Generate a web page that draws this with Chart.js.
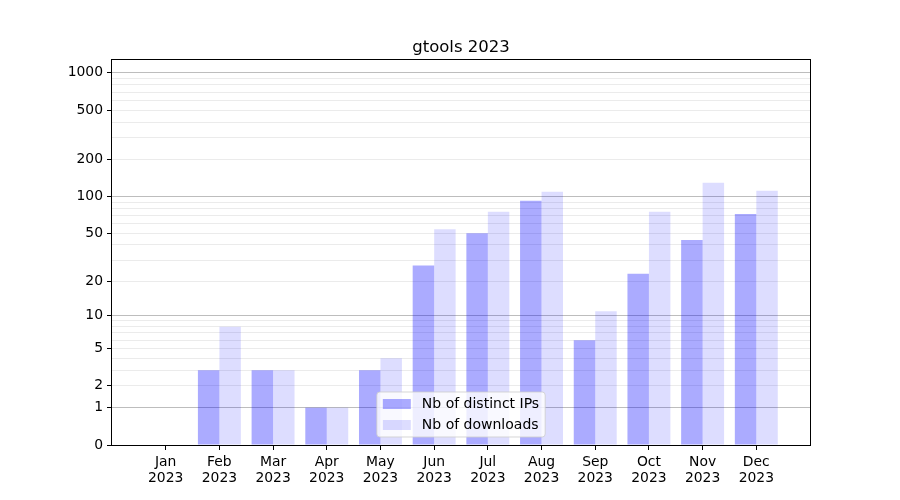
<!DOCTYPE html>
<html>
<head>
<meta charset="utf-8">
<script src="https://cdn.jsdelivr.net/npm/chart.js@4.4.0/dist/chart.umd.min.js"></script>
<style>
  html, body { margin: 0; padding: 0; background: #fff; }
  #wrap { width: 900px; height: 500px; }
</style>
</head>
<body>
<div id="wrap"><canvas id="chart" width="900" height="500"></canvas></div>
<script>
// data
var chartTitle = 'gtools 2023';
var months = ['Jan', 'Feb', 'Mar', 'Apr', 'May', 'Jun', 'Jul', 'Aug', 'Sep', 'Oct', 'Nov', 'Dec'];
var year = '2023';
var distinctIPs = [0, 3, 3, 1, 3, 27, 50, 92, 6, 23, 44, 72];
var downloads = [0, 8, 3, 1, 4, 54, 75, 109, 11, 75, 129, 111];
var yLabelTicks = [0, 1, 2, 5, 10, 20, 50, 100, 200, 500, 1000];
var yMajorGrid = [1, 10, 100, 1000];
var yMax = 1270;

// y axis is log10(1 + v)
function tf(v) { return Math.log10(1 + v); }

var gridValues = [];
[1, 10, 100, 1000].forEach(function (d) {
	for (var k = 1; k <= 9; k++) {
		if (d * k <= 1000) gridValues.push(d * k);
	}
});
gridValues.unshift(0);

var labels = [''].concat(months.map(function (m) { return [m, year]; }), ['']);
var ipsData = [null].concat(distinctIPs.map(tf), [null]);
var dlData = [null].concat(downloads.map(tf), [null]);

function valueOfTick(t) {
	return Math.round(Math.pow(10, t) - 1);
}

var frameAndLegend = {
	id: 'frameAndLegend',
	afterDraw: function (chart) {
		var ctx = chart.ctx;
		var a = chart.chartArea;
		ctx.save();
		ctx.strokeStyle = '#000';
		ctx.lineWidth = 1;
		ctx.strokeRect(Math.round(a.left) - 0.5, Math.round(a.top) - 0.5, Math.round(a.right - a.left) + 1, Math.round(a.bottom - a.top) + 1);

		// title centred over the plot
		ctx.fillStyle = '#000';
		ctx.font = '16.5px "DejaVu Sans"';
		ctx.textAlign = 'center';
		ctx.textBaseline = 'alphabetic';
		ctx.fillText(chartTitle, (a.left + a.right) / 2, a.top - 8);

		// legend, lower center inside the plot
		var items = [
			{ text: 'Nb of distinct IPs', color: 'rgba(0,0,255,0.33)' },
			{ text: 'Nb of downloads', color: 'rgba(0,0,255,0.135)' }
		];
		ctx.textAlign = 'left';
		ctx.font = '14px "DejaVu Sans"';
		var tw = 0;
		items.forEach(function (it) { tw = Math.max(tw, ctx.measureText(it.text).width); });
		var w = 6 + 28 + 11 + tw + 6;
		var h = 45;
		var x = (a.left + a.right) / 2 - w / 2;
		var y = a.bottom - 8 - h;
		ctx.fillStyle = 'rgba(255,255,255,0.8)';
		ctx.strokeStyle = 'rgba(204,204,204,0.8)';
		ctx.beginPath();
		ctx.roundRect(x, y, w, h, 3);
		ctx.fill();
		ctx.stroke();
		items.forEach(function (it, i) {
			var cy = y + 12 + i * 21;
			ctx.fillStyle = it.color;
			ctx.fillRect(x + 6, cy - 5, 28, 10);
			ctx.fillStyle = '#000';
			ctx.textBaseline = 'middle';
			ctx.fillText(it.text, x + 6 + 28 + 11, cy);
		});
		ctx.restore();
	}
};

new Chart(document.getElementById('chart'), {
	type: 'bar',
	data: {
		labels: labels,
		datasets: [{
			label: 'Nb of distinct IPs',
			data: ipsData,
			backgroundColor: 'rgba(0,0,255,0.33)',
			borderWidth: 0,
			inflateAmount: 0,
			categoryPercentage: 0.8,
			barPercentage: 1.0
		}, {
			label: 'Nb of downloads',
			data: dlData,
			backgroundColor: 'rgba(0,0,255,0.135)',
			borderWidth: 0,
			inflateAmount: 0,
			categoryPercentage: 0.8,
			barPercentage: 1.0
		}]
	},
	options: {
		responsive: false,
		animation: false,
		layout: { padding: { left: 0, right: 90, top: 60, bottom: 0 } },
		plugins: {
			legend: { display: false },
			tooltip: { enabled: false },
			title: { display: false }
		},
		scales: {
			x: {
				offset: false,
				grid: {
					offset: false,
					drawOnChartArea: false,
					tickLength: 5,
					tickColor: function (c) { return c.index === 0 || c.index === labels.length - 1 ? 'rgba(0,0,0,0)' : '#000'; }
				},
				border: { display: false },
				ticks: {
					color: '#000',
					font: { family: 'DejaVu Sans', size: 13.9, lineHeight: 1.15 },
					padding: 4,
					maxRotation: 0,
					autoSkip: false
				},
				afterFit: function (scale) { scale.height = 55; }
			},
			y: {
				min: 0,
				max: tf(yMax),
				afterBuildTicks: function (scale) {
					scale.ticks = gridValues.map(function (v) { return { value: tf(v) }; });
				},
				grid: {
					color: function (c) {
						var v = valueOfTick(c.tick.value);
						if (v === 0) return 'rgba(0,0,0,0)';
						return yMajorGrid.indexOf(v) >= 0 ? '#bdbdbd' : '#ebebeb';
					},
					tickColor: function (c) {
						var v = valueOfTick(c.tick.value);
						return yLabelTicks.indexOf(v) >= 0 ? '#000' : 'rgba(0,0,0,0)';
					},
					tickLength: 5
				},
				border: { display: false },
				ticks: {
					color: '#000',
					font: { family: 'DejaVu Sans', size: 13.9 },
					padding: 4,
					autoSkip: false,
					callback: function (t) {
						var v = valueOfTick(t);
						return yLabelTicks.indexOf(v) >= 0 ? String(v) : '';
					}
				},
				afterFit: function (scale) { scale.width = 112; }
			}
		}
	},
	plugins: [frameAndLegend]
});
</script>
</body>
</html>
